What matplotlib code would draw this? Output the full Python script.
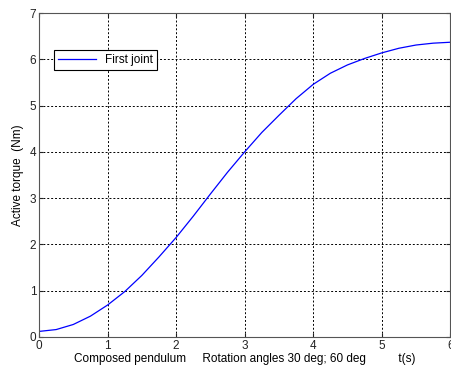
#!/usr/bin/env python3

import matplotlib
matplotlib.use("Agg")
import matplotlib.pyplot as plt

# torque, every 0.25 s
t_s = [0.0, 0.25, 0.5, 0.75, 1.0, 1.25, 1.5, 1.75, 2.0, 2.25, 2.5, 2.75, 3.0,
       3.25, 3.5, 3.75, 4.0, 4.25, 4.5, 4.75, 5.0, 5.25, 5.5, 5.75, 6.0]
torque = [0.12, 0.16, 0.27, 0.45, 0.69, 0.98, 1.33, 1.73, 2.15, 2.61, 3.09,
          3.56, 4.00, 4.42, 4.79, 5.15, 5.46, 5.70, 5.88, 6.02, 6.14, 6.24,
          6.31, 6.35, 6.37]
x_ticks = [0, 1, 2, 3, 4, 5, 6]
y_ticks = [0, 1, 2, 3, 4, 5, 6, 7]

plt.rcParams["font.family"] = ["Liberation Sans", "DejaVu Sans"]
plt.rcParams["font.size"] = 8.5


def main():
    fig = plt.figure(figsize=(4.51, 3.74), dpi=100)
    ax = fig.add_axes([0.0865, 0.099, 0.912, 0.866])
    ax.plot(t_s, torque, color="#0000ff", linewidth=0.9, label="First joint")
    ax.set_xlim(0, 6)
    ax.set_ylim(0, 7)
    ax.set_xticks(x_ticks)
    ax.set_yticks(y_ticks)
    ax.grid(True, color="black", linestyle=(0, (2, 2)), linewidth=0.7)
    ax.tick_params(direction="in", top=True, right=True, length=3,
                   colors="#222222", labelsize=8.5, pad=2)
    for s in ax.spines.values():
        s.set_color("#555555")
        s.set_linewidth(0.8)
    ax.set_xlabel("Composed pendulum     Rotation angles 30 deg; 60 deg"
                  "          t(s)", fontsize=8.5, labelpad=1)
    ax.set_ylabel("Active torque  (Nm)", fontsize=8.5, labelpad=4)
    leg = ax.legend(loc="upper left", bbox_to_anchor=(0.022, 0.905),
                    fancybox=False, framealpha=1, edgecolor="black",
                    handlelength=3.2, borderpad=0.35, fontsize=8.5)
    leg.get_frame().set_linewidth(0.8)
    fig.savefig("out.png", dpi=100)
    plt.close(fig)


if __name__ == "__main__":
    main()
